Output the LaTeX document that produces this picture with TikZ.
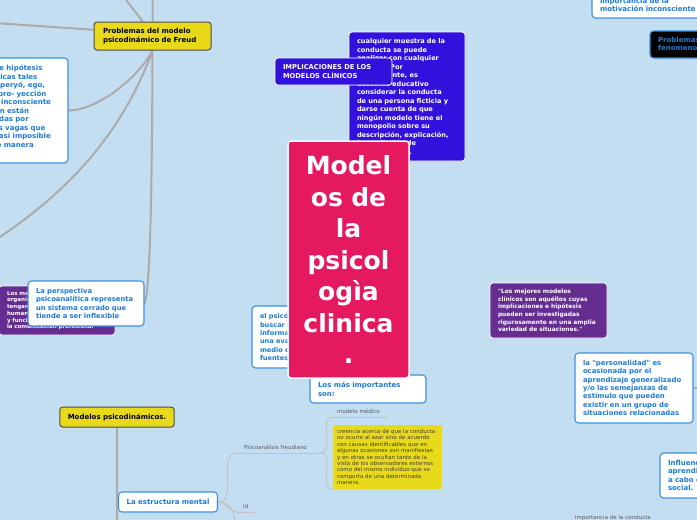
\documentclass[tikz,border=0pt]{standalone}
\usepackage{fontspec}
\setmainfont[Ligatures=TeXOff]{DejaVu Sans}
\usepackage{xcolor}
\definecolor{map-bg}{HTML}{C3DEF1}
\definecolor{map-blue}{HTML}{1E7AD8}
\definecolor{map-edge}{HTML}{3D8FE6}
\definecolor{map-yellow}{HTML}{E8DA1B}
\definecolor{map-violet}{HTML}{3311DD}
\definecolor{map-purple}{HTML}{662D91}
\definecolor{map-pink}{HTML}{E5195F}
\definecolor{map-line}{HTML}{ABABAB}
\definecolor{map-twig}{HTML}{C2C2C2}
\definecolor{map-grey}{HTML}{5A5A5A}
\newcommand{\mapfont}[2]{\fontsize{#1}{#2}\selectfont}
\pgfdeclarelayer{bg}
\pgfdeclarelayer{lines}
\pgfsetlayers{bg,lines,main}

\begin{document}
\begin{tikzpicture}[x=1pt, y=1pt,
        every node/.style={inner sep=0pt, align=left},
        card/.style={draw=map-edge, fill=white, text=map-blue, rounded corners=3.5pt,
            line width=1.1pt, inner xsep=8pt, font=\bfseries\mapfont{7}{8.5}},
        yellowcard/.style={draw=black!70, fill=map-yellow, rounded corners=3pt,
            line width=1pt, inner xsep=8pt, font=\bfseries\mapfont{7}{8.5}},
        darkcard/.style={draw=white, text=white, rounded corners=3pt,
            line width=0.8pt, inner xsep=8pt},
        subtopic/.style={text=map-grey, font=\mapfont{5.5}{6.5}, anchor=south west,
            inner ysep=3.5pt},
        branch/.style={draw=map-line, line width=2pt},
        twig/.style={draw=map-twig, line width=0.9pt}]
      \useasboundingbox (0,0) rectangle (697,-520);
      \begin{pgfonlayer}{bg}
        \fill[map-bg] (0,0) rectangle (697,-520);
      \end{pgfonlayer}

      % Freud branch
      \node[yellowcard, text width=99pt, minimum width=117pt, minimum height=28pt] (FR) at (152.5,-36)
          {Problemas del modelo\\psicodinámico de Freud};
      \node[card, text width=104.4pt, minimum width=121pt, minimum height=105pt] (HYP) at (7.5,-110.5)
          {Las ideas de hipótesis\\psicodinámicas tales\\como id, superyó, ego,\\represión, pro- yección\\motivación inconsciente\\que también están\\caracterizadas por\\definiciones vagas que\\las hacen casi imposible\\medirlas de manera\\confiable.};
      \node[darkcard, fill=map-purple, font=\bfseries\mapfont{5.5}{6.7}, text width=100pt,
            minimum width=114pt, minimum height=49pt] (LMO) at (57,-310.5)
          {Los modelos permiten que\\organizaciones de datos\\tengan sentido, describan al\\humano, su conducta\\y funcionamiento, facilitan\\la comunicación profesional};
      \node[card, font=\bfseries\mapfont{6.8}{8.5}, text width=100pt, minimum width=116pt,
            minimum height=45pt] (PER) at (86,-303.5)
          {La perspectiva\\psicoanalítica representa\\un sistema cerrado que\\tiende a ser inflexible};

      % centre
      \node[darkcard, fill=map-violet, font=\bfseries\mapfont{6.6}{8.5}, text width=100pt,
            minimum width=116pt, minimum height=129pt] (VIO) at (407,-96.5)
          {cualquier muestra de la\\conducta se puede\\analizar con cualquier\\modelo. Por\\consiguiente, es\\bastante educativo\\considerar la conducta\\de una persona ficticia y\\darse cuenta de que\\ningún modelo tiene el\\monopolio sobre su\\descripción, explicación,\\la predicción de\\esta conducta.};
      \node[darkcard, fill=map-violet, font=\bfseries\mapfont{6.7}{9}, text width=101pt,
            minimum width=115pt, minimum height=27pt] (IMP) at (333.5,-71.5)
          {IMPLICACIONES DE LOS\\MODELOS CLÍNICOS};
      \node[card, font=\bfseries\mapfont{6.6}{8.3}, text width=77pt, minimum width=93pt,
            minimum height=62pt] (PSI) at (298.5,-337)
          {el psicólogo debe\\buscar toda la\\información para\\una evaluación por\\medio de diversas\\fuentes.};
      \node[card, text width=100pt, minimum width=116pt, minimum height=28pt] (IMPT) at (368,-389)
          {Los más importantes\\son:};
      \node[darkcard, fill=map-pink, line width=1.5pt, font=\bfseries\mapfont{25}{31.5}, align=center,
            text width=105pt, minimum width=121pt, minimum height=237pt] (MAIN) at (348.5,-259.5)
          {Model\\os de\\la\\psicol\\ogìa\\clinica\\.};

      % right side
      \node[card, text width=104pt, minimum width=120pt, minimum height=26pt] (MOT) at (652,-5)
          {importancia de la\\motivación inconsciente};
      \node[card, fill=black, text width=104pt, minimum width=120pt, minimum height=27pt] (FEN) at (710,-44.5)
          {Problemas del modelo\\fenomenológico};
      \node[darkcard, fill=map-purple, font=\bfseries\mapfont{5.9}{7.7}, text width=101pt,
            minimum width=115pt, minimum height=55pt] (BEST) at (548.5,-310.5)
          {"Los mejores modelos\\clínicos son aquéllos cuyas\\implicaciones e hipótesis\\pueden ser investigadas\\rigurosamente en una amplia\\variedad de situaciones."};
      \node[card, font=\bfseries\mapfont{6.9}{8.4}, text width=102pt, minimum width=116pt,
            minimum height=70pt] (PERS) at (634,-388)
          {la "personalidad" es\\ocasionada por el\\aprendizaje generalizado\\y/o las semejanzas de\\estímulo que pueden\\existir en un grupo de\\situaciones relacionadas};
      \node[card, text width=104pt, minimum width=120pt, minimum height=45pt] (INF) at (720,-475.5)
          {Influencia del\\aprendizaje llevado\\a cabo en el medio\\social.};

      % bottom
      \node[yellowcard, minimum width=114pt, minimum height=20pt] (MOD) at (117,-417)
          {Modelos psicodinámicos.};
      \node[card, minimum width=98pt, minimum height=20pt] (ESTR) at (168,-502)
          {La estructura mental};
      \node[subtopic, text width=69pt, inner xsep=7pt] (PSA) at (237,-453) {Psicoanálisis freudiano};
      \node[subtopic, text width=46pt, inner xsep=4pt] (MED) at (333,-417) {modelo médico};
      \node[subtopic, text width=6pt, inner xsep=6pt] (ID) at (237,-512) {Id};
      \node[fill=map-yellow, rounded corners=2pt, text=black!75, font=\mapfont{5.5}{6.46},
            text width=101pt, minimum width=109pt, minimum height=64pt] (CRE) at (387.5,-457)
          {creencia acerca de que la conducta\\no ocurre al azar sino de acuerdo\\con causas identificables que en\\algunas ocasiones son manifiestas\\y en otras se ocultan tanto de la\\vista de los observadores externos\\como del mismo individuo que se\\comporta de una determinada\\manera.};
      \node[subtopic, text width=80pt, inner xsep=5pt] (IMPC) at (570,-524) {importancia de la conducta};

      \coordinate (UP1) at (153,30);
      \coordinate (UP2) at (103,30);
      \coordinate (LF1) at (-20,-22);
      \coordinate (LF2) at (-20,-250);
      \coordinate (DN1) at (117,-540);
      \coordinate (DN2) at (250,-600);
      \coordinate (RT1) at (720,-388);

      \begin{pgfonlayer}{lines}
        \draw[branch] (UP1) -- (FR.north);
        \draw[branch] (UP2) -- (FR.124);
        \draw[branch] (LF1) -- (FR.174);
        \draw[branch] (FR.south) .. controls (140,-75) and (100,-110) .. (HYP.east);
        \draw[branch] (FR.south) .. controls (120,-140) and (60,-200) .. (LF2);
        \draw[branch] (FR.south) .. controls (152,-200) and (150,-290) .. (PER.east);
        \draw[branch] (MOD.south) -- (DN1);
        \draw[branch] (MOD.south) |- (ESTR.west);
        \draw[branch] (PERS.east) -- (RT1);
        \draw[twig] (ESTR.east) to[out=0, in=180] (PSA.south west);
        \draw[twig] (ESTR.east) to[out=0, in=180] (ID.south west);
        \draw[twig] (ESTR.east) to[out=0, in=180] (DN2);
        \draw[twig] (PSA.south east) to[out=0, in=180] (MED.south west);
        \draw[twig] (PSA.south east) to[out=0, in=180] (CRE.south west);
        \draw[twig] (PSA.south west) -- (PSA.south east);
        \draw[twig] (MED.south west) -- (MED.south east);
        \draw[twig] (ID.south west) -- (ID.south east);
        \draw[twig] (IMPC.south west) -- (IMPC.south east);
      \end{pgfonlayer}
    \end{tikzpicture}
\end{document}
